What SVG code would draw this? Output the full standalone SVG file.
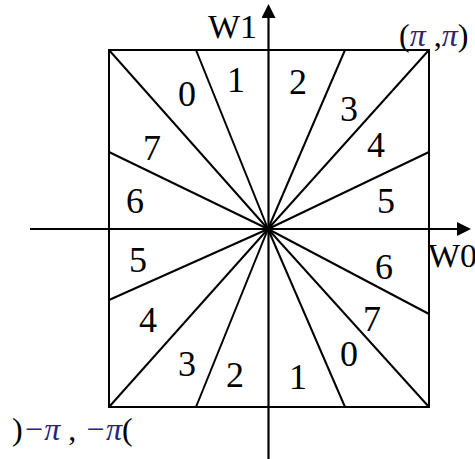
<svg xmlns="http://www.w3.org/2000/svg" width="475" height="459" viewBox="0 0 475 459">
<defs>
<style>
.ln{stroke:#000;stroke-width:2;fill:none}
.ax{stroke:#000;stroke-width:2.2;fill:none}
text{font-family:'Liberation Serif','Times New Roman','DejaVu Serif',serif}
.t{font-size:36px;fill:#000;text-anchor:middle}
.w{font-size:34px;fill:#000}
.p{font-size:32px;fill:#000}
.pi{font-style:italic;fill:#2b2470}
</style>
<marker id="ah" markerWidth="14" markerHeight="14" refX="0" refY="7" orient="auto" markerUnits="userSpaceOnUse">
<path d="M0,0 L14,7 L0,14 Z" fill="#000"/>
</marker>
</defs>
<g id="square">
<rect class="ln" x="109" y="50" width="320" height="357"/>
</g>
<g id="connectors">
<line class="ax" x1="30" y1="229" x2="457" y2="229" marker-end="url(#ah)"/>
<line class="ax" x1="268.5" y1="459" x2="268.5" y2="18" marker-end="url(#ah)"/>
<g class="ln">
<line x1="268" y1="229" x2="109" y2="50"/>
<line x1="268" y1="229" x2="196" y2="50"/>
<line x1="268" y1="229" x2="345" y2="50"/>
<line x1="268" y1="229" x2="429" y2="50"/>
<line x1="268" y1="229" x2="429" y2="152"/>
<line x1="268" y1="229" x2="109" y2="152"/>
<line x1="268" y1="229" x2="109" y2="300"/>
<line x1="268" y1="229" x2="109" y2="407"/>
<line x1="268" y1="229" x2="196" y2="407"/>
<line x1="268" y1="229" x2="345" y2="407"/>
<line x1="268" y1="229" x2="429" y2="407"/>
<line x1="268" y1="229" x2="429" y2="314"/>
</g>
</g>
<g id="labels">
<text class="t" x="187" y="106">0</text>
<text class="t" x="236" y="92">1</text>
<text class="t" x="298" y="94">2</text>
<text class="t" x="349" y="121">3</text>
<text class="t" x="376" y="157">4</text>
<text class="t" x="386" y="213">5</text>
<text class="t" x="152" y="160">7</text>
<text class="t" x="135" y="213">6</text>
<text class="t" x="138" y="272">5</text>
<text class="t" x="148" y="332">4</text>
<text class="t" x="187" y="376">3</text>
<text class="t" x="235" y="387">2</text>
<text class="t" x="298" y="389">1</text>
<text class="t" x="349" y="366">0</text>
<text class="t" x="372" y="331">7</text>
<text class="t" x="384" y="279">6</text>
</g>
<g id="axis-labels">
<text class="w" x="208" y="38">W1</text>
<text class="w" x="428" y="267">W0</text>
<text class="p" x="399" y="46">(<tspan class="pi">π</tspan> ,<tspan class="pi">π</tspan>)</text>
<text class="p" x="12" y="440">)<tspan class="pi">−π</tspan> , <tspan class="pi">−π</tspan>(</text>
</g>
</svg>
